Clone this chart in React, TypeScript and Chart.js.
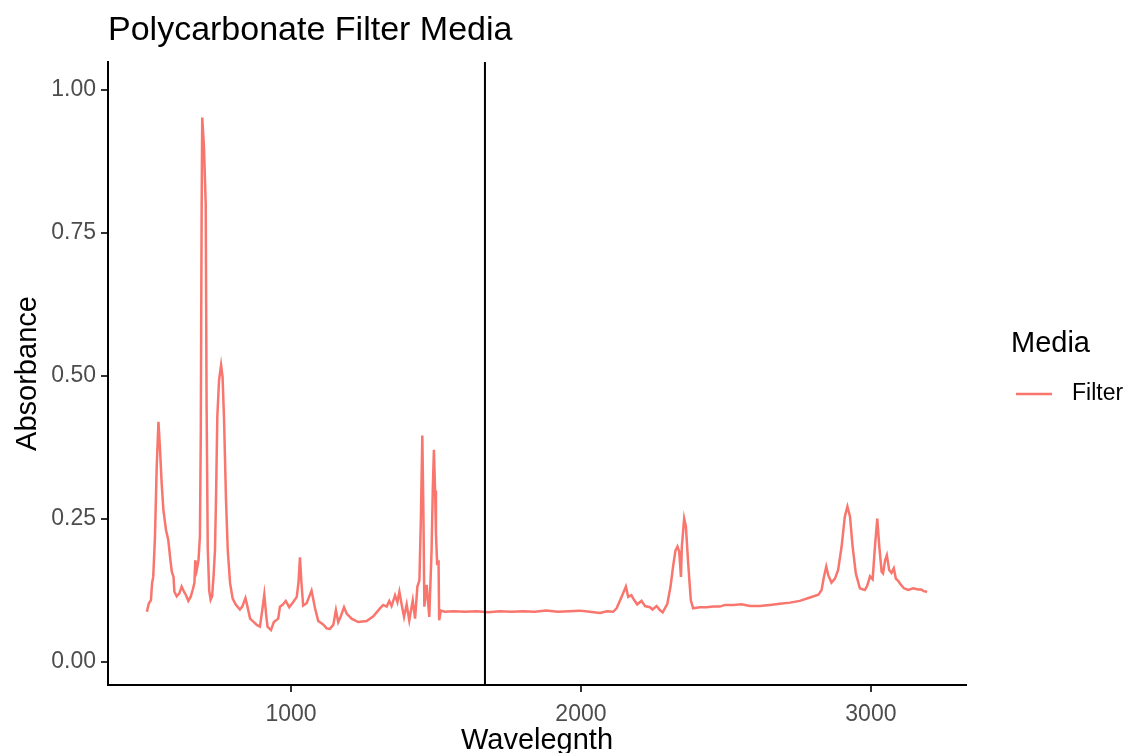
import React, { useEffect, useRef } from "react";
import { Chart, registerables } from "chart.js";

Chart.register(...registerables);

const TITLE = "Polycarbonate Filter Media";
const X_TITLE = "Wavelegnth";
const Y_TITLE = "Absorbance";
const LEGEND_TITLE = "Media";
const SERIES_NAME = "Filter";
const VLINE_X = 1669;
const X_TICKS = [1000, 2000, 3000];
const Y_TICKS = [0, 0.25, 0.5, 0.75, 1.0];

const wavelength = [
  503, 510, 517, 521, 525, 531, 537, 543, 548, 554, 560, 569, 577, 583, 589, 595, 598, 606, 615, 623,
  631, 638, 646, 654, 661, 667, 670, 675, 681, 686, 689, 692, 694, 700, 706, 709, 713, 718, 723, 728,
  733, 738, 742, 746, 752, 759, 764, 769, 776, 782, 790, 799, 810, 824, 832, 843, 850, 859, 872, 882,
  893, 901, 908, 914, 919, 931, 941, 956, 962, 971, 982, 994, 1008, 1020, 1026, 1031, 1036, 1042, 1054, 1071,
  1083, 1094, 1111, 1123, 1134, 1146, 1155, 1163, 1171, 1183, 1192, 1209, 1232, 1261, 1284, 1307, 1318, 1330, 1339, 1347,
  1359, 1367, 1374, 1382, 1390, 1399, 1408, 1420, 1428, 1436, 1443, 1448, 1453, 1457, 1460, 1468, 1477, 1485, 1489, 1493,
  1497, 1500, 1504, 1509, 1511, 1517, 1530, 1560, 1600, 1640, 1680, 1720, 1760, 1800, 1840, 1880, 1920, 1960, 1997, 2030,
  2066, 2090, 2111, 2123, 2140, 2155, 2163, 2174, 2183, 2194, 2209, 2221, 2238, 2247, 2261, 2272, 2282, 2298, 2309, 2318,
  2326, 2333, 2339, 2345, 2348, 2356, 2362, 2370, 2379, 2387, 2410, 2433, 2456, 2479, 2497, 2525, 2554, 2583, 2617, 2652,
  2686, 2721, 2755, 2790, 2819, 2830, 2838, 2846, 2853, 2864, 2876, 2887, 2899, 2910, 2919, 2928, 2937, 2948, 2962, 2979,
  2987, 2997, 3006, 3014, 3022, 3029, 3037, 3042, 3049, 3055, 3063, 3071, 3079, 3086, 3094, 3102, 3114, 3129, 3146, 3163,
  3174, 3182, 3194,
];

const absorbance = [
  0.088, 0.103, 0.108, 0.138, 0.149, 0.219, 0.341, 0.42, 0.376, 0.313, 0.266, 0.231, 0.213, 0.184, 0.158, 0.149, 0.123, 0.115, 0.12, 0.132,
  0.123, 0.117, 0.107, 0.114, 0.126, 0.138, 0.178, 0.161, 0.178, 0.219, 0.4, 0.8, 0.952, 0.9, 0.8, 0.45, 0.2, 0.125, 0.109, 0.115,
  0.15, 0.196, 0.3, 0.429, 0.493, 0.519, 0.499, 0.429, 0.283, 0.196, 0.138, 0.111, 0.1, 0.092, 0.097, 0.112, 0.097, 0.076, 0.07, 0.065,
  0.062, 0.091, 0.118, 0.085, 0.062, 0.056, 0.07, 0.076, 0.097, 0.1, 0.107, 0.096, 0.105, 0.114, 0.14, 0.183, 0.14, 0.099, 0.103, 0.125,
  0.094, 0.072, 0.066, 0.059, 0.058, 0.065, 0.091, 0.07, 0.079, 0.096, 0.085, 0.076, 0.07, 0.072, 0.08, 0.094, 0.1, 0.097, 0.107, 0.098,
  0.117, 0.105, 0.123, 0.1, 0.079, 0.101, 0.073, 0.108, 0.076, 0.132, 0.143, 0.25, 0.396, 0.25, 0.097, 0.135, 0.079, 0.196, 0.3, 0.371,
  0.3, 0.225, 0.173, 0.175, 0.073, 0.09, 0.088, 0.089, 0.088, 0.089, 0.087, 0.089, 0.088, 0.089, 0.088, 0.09, 0.088, 0.089, 0.09, 0.088,
  0.086, 0.089, 0.088, 0.094, 0.114, 0.132, 0.114, 0.117, 0.109, 0.101, 0.107, 0.098, 0.096, 0.092, 0.098, 0.091, 0.087, 0.102, 0.132, 0.168,
  0.195, 0.202, 0.193, 0.149, 0.202, 0.251, 0.237, 0.172, 0.108, 0.094, 0.096, 0.096, 0.097, 0.097, 0.1, 0.1, 0.101, 0.098, 0.098, 0.1,
  0.102, 0.104, 0.107, 0.113, 0.118, 0.126, 0.149, 0.167, 0.152, 0.139, 0.146, 0.161, 0.202, 0.254, 0.272, 0.254, 0.202, 0.155, 0.129, 0.126,
  0.133, 0.15, 0.145, 0.202, 0.251, 0.202, 0.158, 0.155, 0.178, 0.187, 0.161, 0.156, 0.164, 0.146, 0.142, 0.136, 0.129, 0.126, 0.129, 0.127,
  0.127, 0.124, 0.123,
];

const LINE_COLOR = "#F8766D";
const FONT = "'Liberation Sans', Arial, sans-serif";

const decorPlugin = {
  id: "decor",
  afterDatasetsDraw(chart: any) {
    const ctx = chart.ctx;
    const xs = chart.scales.x;
    const area = chart.chartArea;
    const px = xs.getPixelForValue(VLINE_X);
    ctx.save();
    ctx.strokeStyle = "#000000";
    ctx.lineWidth = 2;
    ctx.beginPath();
    ctx.moveTo(px, area.top);
    ctx.lineTo(px, area.bottom);
    ctx.stroke();
    ctx.restore();
  },
  afterDraw(chart: any) {
    const ctx = chart.ctx;
    const area = chart.chartArea;
    ctx.save();
    ctx.fillStyle = "#000000";
    ctx.font = `34px ${FONT}`;
    ctx.textAlign = "left";
    ctx.textBaseline = "alphabetic";
    ctx.fillText(TITLE, 108, 40);
    ctx.font = `29px ${FONT}`;
    ctx.textAlign = "center";
    ctx.textBaseline = "middle";
    ctx.fillText(X_TITLE, (area.left + area.right) / 2, 741);
    ctx.save();
    ctx.translate(28, (area.top + area.bottom) / 2);
    ctx.rotate(-Math.PI / 2);
    ctx.fillText(Y_TITLE, 0, 0);
    ctx.restore();
    ctx.textAlign = "left";
    ctx.font = `29px ${FONT}`;
    ctx.fillText(LEGEND_TITLE, 1011, 344);
    ctx.strokeStyle = LINE_COLOR;
    ctx.lineWidth = 2.5;
    ctx.beginPath();
    ctx.moveTo(1016, 394);
    ctx.lineTo(1052, 394);
    ctx.stroke();
    ctx.font = `23px ${FONT}`;
    ctx.fillText(SERIES_NAME, 1072, 394);
    ctx.restore();
  },
};

export default function App() {
  const ref = useRef<HTMLCanvasElement>(null);
  useEffect(() => {
    document.body.style.margin = "0";
    const canvas = ref.current;
    if (!canvas) return;
    const data = wavelength.map((x, i) => ({ x, y: absorbance[i] }));
    const chart = new Chart(canvas, {
      type: "line",
      data: {
        datasets: [
          {
            label: SERIES_NAME,
            data,
            borderColor: LINE_COLOR,
            borderWidth: 2.5,
            pointRadius: 0,
            tension: 0,
            fill: false,
          },
        ],
      },
      options: {
        responsive: false,
        animation: false,
        layout: { padding: { left: 0, top: 62, right: 161, bottom: 0 } },
        plugins: { legend: { display: false }, title: { display: false }, tooltip: { enabled: false } },
        scales: {
          x: {
            type: "linear",
            min: 369,
            max: 3328,
            afterBuildTicks: (s: any) => {
              s.ticks = X_TICKS.map((v) => ({ value: v }));
            },
            afterFit: (s: any) => {
              s.height = 68;
            },
            ticks: {
              autoSkip: false,
              maxRotation: 0,
              font: { family: FONT, size: 23 },
              color: "#4D4D4D",
              padding: 9,
              callback: (v: any) => String(v),
            },
            grid: { drawOnChartArea: false, drawTicks: true, tickLength: 7, color: "#333333", lineWidth: 2 },
            border: { display: true, color: "#000000", width: 2 },
          },
          y: {
            type: "linear",
            min: -0.04,
            max: 1.049,
            afterBuildTicks: (s: any) => {
              s.ticks = Y_TICKS.map((v) => ({ value: v }));
            },
            afterFit: (s: any) => {
              s.width = 108;
            },
            ticks: {
              font: { family: FONT, size: 23 },
              color: "#4D4D4D",
              padding: 5,
              callback: (v: any) => Number(v).toFixed(2),
            },
            grid: { drawOnChartArea: false, drawTicks: true, tickLength: 7, color: "#333333", lineWidth: 2 },
            border: { display: true, color: "#000000", width: 2 },
          },
        },
      },
      plugins: [decorPlugin],
    });
    return () => chart.destroy();
  }, []);
  return (
    <div style={{ width: 1127, height: 753, background: "#ffffff" }}>
      <canvas ref={ref} width={1127} height={753} />
    </div>
  );
}
